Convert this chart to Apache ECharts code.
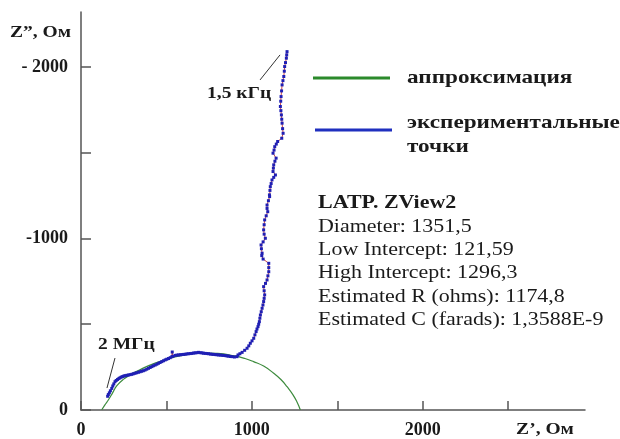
<!DOCTYPE html>
<html>
<head>
<meta charset="utf-8">
<script src="https://cdn.jsdelivr.net/npm/echarts@6.0.0/dist/echarts.min.js"></script>
<style>
    * { margin: 0; padding: 0; }
    body { background: #ffffff; }
    #main { width: 620px; height: 439px; }
</style>
</head>
<body>
<div id="main"></div>
<script>
    // Z' (Ом), -Z'' (Ом)
    var fitArc = [
        [121, 0], [140, 30], [160, 58], [185, 100], [210, 142], [250, 180], [300, 212], [350, 237],
        [400, 260], [500, 296], [600, 320], [700, 332], [800, 330], [900, 315], [960, 300],
        [1010, 282], [1069, 256], [1128, 214], [1170, 178], [1206, 136], [1240, 90], [1265, 45], [1284, 0]
    ];

    var expPoints = [
        [156, 80], [160, 90], [166, 100], [172, 112], [180, 126], [186, 140], [192, 152], [199, 165],
        [206, 172], [214, 178], [222, 184], [229, 188], [236, 192], [244, 195], [251, 198], [258, 200],
        [268, 202], [277, 204], [287, 206], [297, 208], [306, 211], [316, 214], [326, 217], [336, 220],
        [346, 223], [355, 226], [365, 229], [375, 233], [385, 238], [395, 243], [405, 248], [415, 253],
        [424, 258], [434, 262], [444, 267], [453, 272], [463, 277], [473, 282], [483, 287], [493, 292],
        [502, 296], [512, 300], [522, 305], [532, 311], [534, 338], [538, 313], [551, 318], [561, 320],
        [571, 321], [581, 322], [590, 323], [600, 324], [610, 325], [620, 327], [630, 328], [640, 329],
        [649, 330], [659, 332], [668, 333], [678, 334], [688, 336], [698, 334], [708, 333], [717, 331],
        [727, 330], [737, 329], [747, 328], [757, 326], [767, 325], [776, 324], [786, 323], [796, 322],
        [805, 321], [815, 320], [825, 319], [835, 318], [845, 317], [855, 315], [864, 314], [874, 312],
        [884, 311], [898, 309], [913, 311], [919, 321], [930, 328], [943, 336], [958, 348], [972, 360],
        [982, 374], [991, 389], [1001, 403], [1011, 418], [1018, 438], [1025, 457], [1030, 472], [1036, 486],
        [1040, 500], [1044, 515], [1047, 535], [1050, 554], [1055, 573], [1060, 593], [1065, 612], [1069, 632],
        [1072, 651], [1075, 671], [1072, 695], [1069, 719], [1080, 738], [1089, 758], [1094, 782], [1099, 806],
        [1099, 830], [1099, 855], [1066, 880], [1058, 900], [1060, 914], [1056, 940], [1054, 962], [1066, 980],
        [1079, 1001], [1072, 1025], [1069, 1050], [1072, 1080], [1075, 1108], [1084, 1132], [1093, 1156], [1089, 1175],
        [1089, 1195], [1097, 1220], [1104, 1244], [1103, 1254], [1106, 1280], [1108, 1302], [1113, 1320], [1118, 1341],
        [1128, 1356], [1138, 1370], [1124, 1390], [1126, 1410], [1128, 1429], [1135, 1450], [1142, 1468], [1124, 1497],
        [1130, 1515], [1134, 1535], [1143, 1550], [1151, 1565], [1175, 1584], [1183, 1613], [1180, 1640], [1177, 1672],
        [1175, 1695], [1173, 1720], [1170, 1745], [1167, 1769], [1169, 1800], [1171, 1827], [1174, 1860], [1177, 1895],
        [1182, 1920], [1187, 1944], [1190, 1975], [1192, 2002], [1197, 2025], [1202, 2051], [1204, 2070], [1206, 2089]
    ];

    // pointer lines for the frequency notes, in axis units
    var pointerLines = [
        [[1048, 1924], [1165, 2070]],
        [[199, 303], [152, 128]]
    ];

    var xTicks = [0, 500, 1000, 1500, 2000, 2500];
    var xLabelVals = [0, 1000, 2000];
    var yTicks = [0, 500, 1000, 1500, 2000];
    var yLabelVals = [0, 1000, 2000];
    var yLabelText = ['0', '-1000', '- 2000'];

    var seriesNames = ['аппроксимация', 'экспериментальные точки'];
    var infoLines = [
        'Diameter: 1351,5',
        'Low Intercept: 121,59',
        'High Intercept: 1296,3',
        'Estimated R (ohms): 1174,8',
        'Estimated C (farads): 1,3588E-9'
    ];

    var serif = '"Liberation Serif", "Times New Roman", serif';
    var ink = '#1a1a1a';
    var stretch = 1.22;

    function txt(x, y, text, size, bold, align) {
        return {
            type: 'text', x: x, y: y, scaleX: stretch, silent: true,
            style: {
                text: text, fill: ink, fontFamily: serif, fontSize: size,
                fontWeight: bold ? 'bold' : 'normal',
                align: align || 'left', verticalAlign: 'middle'
            }
        };
    }

    var graphics = [
        txt(10, 33, 'Z\u201d, Ом', 16, true),
        txt(545, 430, 'Z\u2019, Ом', 16, true, 'center'),
        {type: 'line', silent: true, shape: {x1: 313, y1: 78, x2: 390, y2: 78}, style: {stroke: '#2b8a2b', lineWidth: 3}},
        {type: 'line', silent: true, shape: {x1: 315, y1: 130, x2: 392, y2: 130}, style: {stroke: '#1f2fbf', lineWidth: 3}},
        txt(407, 78, 'аппроксимация', 19, true),
        txt(407, 123, 'экспериментальные', 19, true),
        txt(407, 147, 'точки', 19, true),
        txt(207, 94, '1,5 кГц', 16, true),
        txt(98, 345, '2 МГц', 16, true),
        txt(318, 203, 'LATP. ZView2', 18, true)
    ];
    infoLines.forEach(function (s, i) {
        graphics.push(txt(318, 227 + i * 23.3, s, 18, false));
    });

    var axisLineStyle = {color: '#555555', width: 1.5};
    var labelFont = {fontFamily: serif, fontWeight: 'bold', fontSize: 18, color: ink};

    var chart = echarts.init(document.getElementById('main'));
    chart.setOption({
        animation: false,
        backgroundColor: '#ffffff',
        grid: {left: 81, right: 35, top: 12, bottom: 29},
        xAxis: {
            type: 'value', min: 0, max: 2950,
            axisLine: {lineStyle: axisLineStyle},
            axisTick: {inside: true, length: 9, customValues: xTicks, lineStyle: axisLineStyle},
            axisLabel: Object.assign({
                customValues: xLabelVals, margin: 11,
                formatter: function (v) { return String(v); }
            }, labelFont),
            splitLine: {show: false}
        },
        yAxis: {
            type: 'value', min: 0, max: 2320,
            axisLine: {show: true, lineStyle: axisLineStyle},
            axisTick: {show: true, inside: true, length: 10, customValues: yTicks, lineStyle: axisLineStyle},
            axisLabel: Object.assign({
                customValues: yLabelVals, margin: 13,
                formatter: function (v) { return yLabelText[yLabelVals.indexOf(v)]; }
            }, labelFont),
            splitLine: {show: false}
        },
        series: [
            {
                name: seriesNames[0], type: 'line', data: fitArc, smooth: true,
                showSymbol: false, silent: true, z: 2,
                lineStyle: {color: '#3d8b3d', width: 1.2}
            },
            {
                name: seriesNames[1], type: 'line', data: expPoints, z: 3, silent: true,
                symbol: 'rect', symbolSize: 3,
                itemStyle: {color: '#1f1fb4'},
                lineStyle: {color: '#cc4a4a', width: 1},
                markLine: {
                    silent: true, symbol: 'none', label: {show: false},
                    lineStyle: {color: '#333333', width: 1, type: 'solid'},
                    data: pointerLines.map(function (p) {
                        return [{coord: p[0]}, {coord: p[1]}];
                    })
                }
            }
        ],
        graphic: graphics
    });
</script>
</body>
</html>
